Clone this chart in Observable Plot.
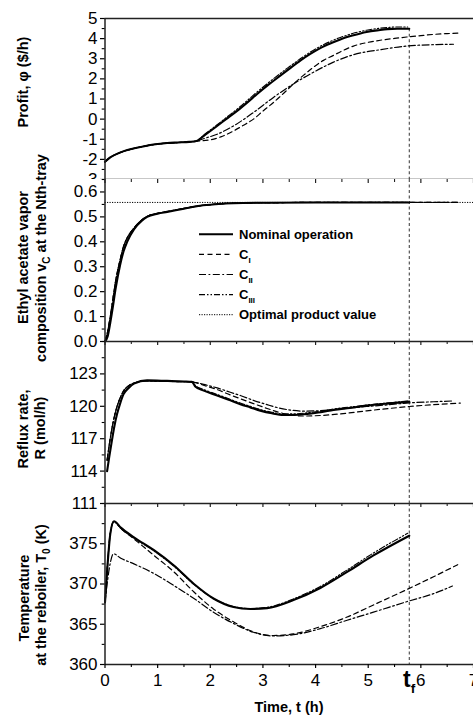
<!DOCTYPE html>
<html><head><meta charset="utf-8">
<script src="https://cdn.jsdelivr.net/npm/d3@7"></script>
<script src="https://cdn.jsdelivr.net/npm/@observablehq/plot@0.6"></script>
<style>
body{margin:0;background:#fff;}
#chart{position:relative;width:473px;height:715px;overflow:hidden;background:#fff;font-family:"Liberation Sans",Arial,sans-serif;}
</style></head><body><div id="chart"></div>
<script>
// ---------- shared x axis ----------
const xMajor = [0, 1, 2, 3, 4, 5, 6, 7];
const xMinor = [0.5, 1.5, 2.5, 3.5, 4.5, 5.5, 6.5];
const tf = 5.78;

// ---------- Panel 1: profit ($/h) ----------
const profitYMajor = [-3, -2, -1, 0, 1, 2, 3, 4, 5];
const profitYMinor = [-2.5, -1.5, -0.5, 0.5, 1.5, 2.5, 3.5, 4.5];
const profitEarlyT = [0, 0.1, 0.25, 0.48, 0.7, 0.86, 1.0, 1.18, 1.4, 1.6, 1.72];
const profitEarlyV = [-2.12, -1.9, -1.7, -1.5, -1.37, -1.29, -1.24, -1.19, -1.16, -1.13, -1.1];
const profitNomT = [1.9, 2.13, 2.3, 2.51, 2.7, 2.89, 3.1, 3.33, 3.5, 3.71, 3.9, 4.09, 4.3, 4.47, 4.7, 4.97, 5.2, 5.36, 5.55, 5.78];
const profitNomV = [-0.78, -0.34, 0.0, 0.41, 0.82, 1.25, 1.7, 2.16, 2.5, 2.91, 3.24, 3.53, 3.78, 3.96, 4.15, 4.33, 4.42, 4.47, 4.49, 4.49];
const profitC1T = [2.0, 2.2, 2.44, 2.62, 2.82, 3.0, 3.2, 3.4, 3.58, 3.78, 3.96, 4.15, 4.34, 4.53, 4.72, 4.97, 5.23, 5.5, 5.73, 6.0, 6.24, 6.5, 6.75];
const profitC1V = [-1.03, -0.88, -0.59, -0.32, 0.0, 0.4, 0.83, 1.3, 1.75, 2.2, 2.58, 2.92, 3.17, 3.42, 3.63, 3.8, 3.92, 4.01, 4.08, 4.15, 4.21, 4.25, 4.28];
const profitC2T = [1.9, 2.13, 2.44, 2.82, 3.2, 3.58, 3.96, 4.34, 4.72, 5.23, 5.73, 6.24, 6.62];
const profitC2V = [-0.95, -0.75, -0.34, 0.33, 1.08, 1.75, 2.33, 2.83, 3.2, 3.45, 3.63, 3.70, 3.72];
const profitC3T = [1.9, 2.13, 2.3, 2.51, 2.7, 2.89, 3.1, 3.33, 3.5, 3.71, 3.9, 4.09, 4.3, 4.47, 4.7, 4.97, 5.2, 5.36, 5.55, 5.75];
const profitC3V = [-0.74, -0.28, 0.07, 0.5, 0.92, 1.35, 1.8, 2.27, 2.6, 3.0, 3.33, 3.62, 3.88, 4.06, 4.25, 4.42, 4.51, 4.55, 4.58, 4.58];

// ---------- Panel 2: ethyl acetate vapor composition ----------
const compYMajor = [0, 0.1, 0.2, 0.3, 0.4, 0.5, 0.6];
const compYMinor = [0.05, 0.15, 0.25, 0.35, 0.45, 0.55, 0.65];
const optimalValue = 0.558;
const compNomT = [0, 0.05, 0.1, 0.15, 0.2, 0.29, 0.35, 0.42, 0.55, 0.7, 0.8, 1.0, 1.18, 1.5, 1.81, 2.1, 2.44, 3.08, 4.0, 5.0, 5.78];
const compNomV = [0, 0.02, 0.075, 0.14, 0.21, 0.31, 0.36, 0.40, 0.45, 0.485, 0.5, 0.513, 0.52, 0.533, 0.545, 0.551, 0.555, 0.557, 0.558, 0.558, 0.558];
const compCT = [0, 0.05, 0.1, 0.15, 0.2, 0.29, 0.35, 0.42, 0.55, 0.7, 0.8, 1.0, 1.18, 1.5, 1.81, 2.1, 2.44, 3.08, 4.0, 5.0, 5.75];
const compCV = [0, 0.04, 0.1, 0.17, 0.24, 0.33, 0.38, 0.415, 0.455, 0.488, 0.502, 0.514, 0.521, 0.534, 0.545, 0.551, 0.555, 0.557, 0.558, 0.558, 0.558];
const compTailT = [6.2, 6.7];
const compTailV = [0.558, 0.558];

// ---------- Panel 3: reflux rate (mol/h) ----------
const refluxYMajor = [111, 114, 117, 120, 123];
const refluxYMinor = [112.5, 115.5, 118.5, 121.5, 124.5, 126];
const refluxNomT = [0.04, 0.08, 0.13, 0.18, 0.23, 0.29, 0.35, 0.45, 0.55, 0.8, 1.18, 1.5, 1.65, 1.72, 1.85, 2.13, 2.35, 2.57, 2.76, 2.95, 3.17, 3.39, 3.6, 3.84, 4.1, 4.34, 4.65, 4.97, 5.35, 5.78];
const refluxNomV = [114.0, 115.3, 116.8, 118.2, 119.3, 120.3, 121.1, 121.7, 122.1, 122.4, 122.35, 122.3, 122.26, 121.8, 121.5, 121.0, 120.6, 120.2, 119.9, 119.6, 119.35, 119.2, 119.2, 119.3, 119.45, 119.66, 119.85, 120.06, 120.25, 120.43];
const refluxCEarlyT = [0.04, 0.08, 0.13, 0.18, 0.23, 0.29, 0.35, 0.45, 0.55, 0.8, 1.18, 1.5, 1.65];
const refluxCEarlyV = [115.0, 116.4, 117.9, 119.1, 120.0, 120.8, 121.4, 121.9, 122.15, 122.35, 122.3, 122.28, 122.26];
const refluxC1T = [1.9, 2.13, 2.38, 2.57, 2.82, 3.08, 3.3, 3.52, 3.8, 4.1, 4.47, 4.97, 5.4, 5.78, 6.24, 6.75];
const refluxC1V = [121.9, 121.55, 121.05, 120.7, 120.25, 119.8, 119.45, 119.2, 119.1, 119.15, 119.3, 119.58, 119.8, 119.98, 120.15, 120.3];
const refluxC2T = [1.9, 2.13, 2.38, 2.57, 2.82, 3.08, 3.3, 3.52, 3.8, 4.1, 4.47, 4.97, 5.4, 5.78, 6.24, 6.62];
const refluxC2V = [122.0, 121.7, 121.3, 121.0, 120.55, 120.15, 119.85, 119.65, 119.55, 119.6, 119.75, 119.98, 120.15, 120.32, 120.42, 120.5];
const refluxC3T = [1.72, 1.85, 2.13, 2.35, 2.57, 2.76, 2.95, 3.17, 3.39, 3.6, 3.84, 4.1, 4.34, 4.65, 4.97, 5.35, 5.75];
const refluxC3V = [121.9, 121.6, 121.1, 120.7, 120.3, 120.0, 119.7, 119.45, 119.3, 119.3, 119.4, 119.55, 119.75, 119.93, 120.12, 120.3, 120.48];

// ---------- Panel 4: reboiler temperature (K) ----------
const tempYMajor = [360, 365, 370, 375];
const tempYMinor = [362.5, 367.5, 372.5, 377.5, 380];
const tempNomT = [0, 0.05, 0.1, 0.17, 0.3, 0.55, 0.93, 1.31, 1.69, 2.06, 2.44, 2.76, 3.08, 3.58, 4.09, 4.6, 5.1, 5.78];
const tempNomV = [367.7, 372.5, 376.2, 377.8, 377.0, 375.8, 374.2, 372.3, 370.0, 368.2, 367.15, 366.9, 367.0, 368.0, 369.5, 371.5, 373.55, 376.0];
const tempC1T = [0, 0.05, 0.1, 0.17, 0.3, 0.55, 0.93, 1.31, 1.69, 2.06, 2.44, 2.82, 3.2, 3.58, 4.09, 4.6, 5.1, 5.73, 6.24, 6.7];
const tempC1V = [367.7, 372.5, 376.2, 377.8, 376.9, 375.6, 373.55, 371.5, 369.0, 366.9, 365.3, 364.05, 363.6, 363.8, 364.7, 365.9, 367.4, 369.3, 370.9, 372.4];
const tempC2T = [0, 0.05, 0.1, 0.16, 0.3, 0.55, 0.93, 1.31, 1.69, 2.06, 2.44, 2.82, 3.2, 3.58, 4.09, 4.6, 5.1, 5.73, 6.24, 6.6];
const tempC2V = [367.7, 370.5, 372.6, 373.75, 373.2, 372.5, 371.3, 369.8, 368.2, 366.5, 365.1, 364.0, 363.55, 363.7, 364.45, 365.5, 366.5, 367.8, 368.8, 369.75];
const tempC3T = [0, 0.05, 0.1, 0.17, 0.3, 0.55, 0.93, 1.31, 1.69, 2.06, 2.44, 2.76, 3.08, 3.58, 4.09, 4.6, 5.1, 5.75];
const tempC3V = [367.7, 372.8, 376.4, 377.7, 376.9, 375.7, 374.1, 372.2, 369.95, 368.2, 367.2, 366.95, 367.1, 368.15, 369.7, 371.75, 373.85, 376.3];

// ---------- labels ----------
const legendLabels = ["Nominal operation", "C|I", "C|II", "C|III", "Optimal product value"];
const xTitle = "Time, t (h)";

// ---------- rendering ----------
const FONT = '"Liberation Sans", Arial, sans-serif';
const W = 473, ML = 104.5, MR = 0;
const container = document.getElementById("chart");

const STY = {
  nom: {stroke: "#000", strokeWidth: 2.1},
  c1: {stroke: "#000", strokeWidth: 1.2, strokeDasharray: "5,3.5"},
  c2: {stroke: "#000", strokeWidth: 1.2, strokeDasharray: "7,2.5,1.8,2.5"},
  c3: {stroke: "#000", strokeWidth: 1.1, strokeDasharray: "6,2,1.5,2,1.5,2"},
  opt: {stroke: "#000", strokeWidth: 1, strokeDasharray: "1.2,1.3"},
  tf: {stroke: "#333", strokeWidth: 1, strokeDasharray: "3,2.5"}
};
const rows = (t, v) => t.map((x, i) => ({t: x, v: v[i]}));
const lineMark = (d, s) => Plot.line(d, {x: "t", y: "v", curve: "monotone-x", ...s});

function panel(cfg) {
  const plotH = cfg.height - cfg.mt - cfg.mb;
  const marks = [...cfg.lines];
  marks.push(Plot.ruleX([0], {stroke: "#222", strokeWidth: 1.5}));
  marks.push(Plot.ruleY([cfg.domain[0]], {stroke: "#222", strokeWidth: 1.4}));
  if (cfg.topRule) marks.push(Plot.ruleY([cfg.domain[1]], {stroke: "#222", strokeWidth: 1.4}));
  marks.push(Plot.axisY({ticks: cfg.major, tickSize: 4.5, tickPadding: 3, tickFormat: cfg.fmt, label: null, strokeWidth: 1.2}));
  marks.push(Plot.axisY({ticks: cfg.minor, tickSize: 2.8, tickFormat: () => "", label: null, strokeWidth: 1.1}));
  if (cfg.topTicks) {
    // ticks hanging down from the shared boundary with the panel above
    marks.push(Plot.ruleX(xMajor, {insetBottom: plotH - 4, stroke: "#222", strokeWidth: 1.2}));
    marks.push(Plot.ruleX(xMinor, {insetBottom: plotH - 3, stroke: "#222", strokeWidth: 1.1}));
  }
  if (cfg.bottomAxis) {
    marks.push(Plot.axisX({anchor: "bottom", ticks: xMajor, tickSize: 4, tickPadding: 5, tickFormat: d => String(d), label: null, strokeWidth: 1.2}));
    marks.push(Plot.axisX({anchor: "bottom", ticks: xMinor, tickSize: 3, tickFormat: () => "", label: null, strokeWidth: 1.1}));
  }
  const xOpts = {domain: [0, 7], label: null};
  if (!cfg.bottomAxis) xOpts.axis = null;
  const svg = Plot.plot({
    width: W, height: cfg.height,
    marginLeft: ML, marginRight: MR, marginTop: cfg.mt, marginBottom: cfg.mb,
    x: xOpts,
    y: {domain: cfg.domain, label: null},
    style: {fontFamily: FONT, fontSize: "17px", color: "#000", background: "transparent", overflow: cfg.overflow},
    marks
  });
  svg.style.position = "absolute";
  svg.style.left = "0px";
  svg.style.top = cfg.top + "px";
  container.appendChild(svg);
}

// Panel 1
const profitEarly = rows(profitEarlyT, profitEarlyV);
const profitEnd = profitNomV[profitNomV.length - 1];
panel({
  top: 0, height: 179, mt: 18, mb: 0, domain: [-3, 5], overflow: "hidden", topRule: true,
  major: profitYMajor, minor: profitYMinor, fmt: d => String(d),
  lines: [
    Plot.ruleX([tf], {y1: profitEnd, y2: -3, ...STY.tf}),
    lineMark(profitEarly.concat(rows(profitC1T, profitC1V)), STY.c1),
    lineMark(profitEarly.concat(rows(profitC2T, profitC2V)), STY.c2),
    lineMark(profitEarly.concat(rows(profitC3T, profitC3V)), STY.c3),
    lineMark(profitEarly.concat(rows(profitNomT, profitNomV)), STY.nom)
  ]
});

// Panel 2
const compC = rows(compCT, compCV);
panel({
  top: 179, height: 162, mt: 0, mb: 0, domain: [0, 0.65], overflow: "visible", topTicks: true,
  major: compYMajor, minor: compYMinor, fmt: d => d.toFixed(1),
  lines: [
    Plot.ruleX([tf], STY.tf),
    Plot.ruleY([optimalValue], STY.opt),
    lineMark(compC.concat(rows(compTailT, compTailV)), STY.c1),
    lineMark(compC.concat(rows(compTailT, compTailV)), STY.c2),
    lineMark(compC, STY.c3),
    lineMark(rows(compNomT, compNomV), STY.nom)
  ]
});

// Panel 3
const refluxEarly = rows(refluxCEarlyT, refluxCEarlyV);
panel({
  top: 341, height: 162, mt: 0, mb: 0, domain: [111, 126], overflow: "visible", topTicks: true,
  major: refluxYMajor, minor: refluxYMinor, fmt: d => String(d),
  lines: [
    Plot.ruleX([tf], STY.tf),
    lineMark(refluxEarly.concat(rows(refluxC1T, refluxC1V)), STY.c1),
    lineMark(refluxEarly.concat(rows(refluxC2T, refluxC2V)), STY.c2),
    lineMark(refluxEarly.concat(rows(refluxC3T, refluxC3V)), STY.c3),
    lineMark(rows(refluxNomT, refluxNomV), STY.nom)
  ]
});

// Panel 4
panel({
  top: 503, height: 212, mt: 0, mb: 51, domain: [360, 380], overflow: "visible", topTicks: true, bottomAxis: true,
  major: tempYMajor, minor: tempYMinor, fmt: d => String(d),
  lines: [
    Plot.ruleX([tf], STY.tf),
    lineMark(rows(tempC1T, tempC1V), STY.c1),
    lineMark(rows(tempC2T, tempC2V), STY.c2),
    lineMark(rows(tempC3T, tempC3V), STY.c3),
    lineMark(rows(tempNomT, tempNomV), STY.nom)
  ]
});

// ---------- overlay: titles, legend, tf ----------
const ov = d3.create("svg").attr("width", W).attr("height", 715)
  .style("position", "absolute").style("left", "0px").style("top", "0px")
  .style("overflow", "visible").style("opacity", "0.999")
  .attr("font-family", FONT);

function yTitle(x, cy, parts) {
  const t = ov.append("text").attr("transform", `translate(${x},${cy}) rotate(-90)`)
    .attr("text-anchor", "middle").attr("font-weight", "bold").attr("font-size", 14.5).attr("fill", "#000");
  parts.forEach(p => {
    if (typeof p === "string") t.append("tspan").text(p);
    else t.append("tspan").attr("font-size", p.size || 10).attr("dy", p.dy).text(p.sub);
  });
}
yTitle(27.5, 82, ["Profit, φ ($/h)"]);
yTitle(27.5, 257.5, ["Ethyl acetate vapor"]);
yTitle(45.5, 258, ["composition v", {sub: "C", dy: 4}, {sub: " at the Nth-tray", dy: -4, size: 14.5}]);
yTitle(27.5, 429, ["Reflux rate,"]);
yTitle(45, 428, ["R (mol/h)"]);
yTitle(28.5, 598, ["Temperature"]);
yTitle(45.5, 595, ["at the reboiler, T", {sub: "0", dy: 4}, {sub: " (K)", dy: -4, size: 14.5}]);

// legend
const legendStyles = [STY.nom, STY.c1, STY.c2, STY.c3, STY.opt];
legendLabels.forEach((lab, i) => {
  const y = 234.3 + i * 20.1;
  const s = legendStyles[i];
  ov.append("line").attr("x1", 199).attr("x2", 233).attr("y1", y).attr("y2", y)
    .attr("stroke", s.stroke).attr("stroke-width", s.strokeWidth)
    .attr("stroke-dasharray", s.strokeDasharray || null);
  const t = ov.append("text").attr("x", 239).attr("y", y + 4.7)
    .attr("font-weight", "bold").attr("font-size", 13).attr("fill", "#000");
  const [main, sub] = lab.split("|");
  t.append("tspan").text(main);
  if (sub) t.append("tspan").attr("font-size", 8).attr("dy", 4).text(sub);
});

// tf label
const tfT = ov.append("text").attr("x", 403).attr("y", 687).attr("font-weight", "bold").attr("fill", "#000");
tfT.append("tspan").attr("font-size", 23).text("t");
tfT.append("tspan").attr("font-size", 13.5).attr("dy", 6).text("f");

// x title
ov.append("text").attr("x", 289).attr("y", 712).attr("text-anchor", "middle")
  .attr("font-weight", "bold").attr("font-size", 14.5).attr("fill", "#000").text(xTitle);

container.appendChild(ov.node());
</script>
</body></html>
